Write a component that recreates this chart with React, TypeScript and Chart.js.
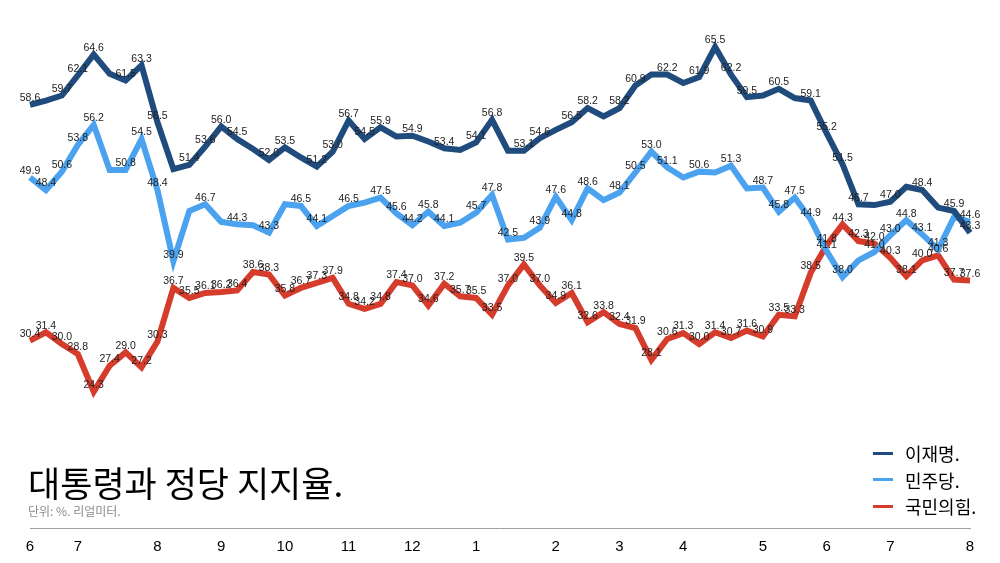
import React from "react"
import { Chart, registerables } from "chart.js"

Chart.register(...registerables)

// weekly polls, June to August of the next year
const monthLabels = ["6", "7", "8", "9", "10", "11", "12", "1", "2", "3", "4", "5", "6", "7", "8"]
const monthStarts = [0, 3, 8, 12, 16, 20, 24, 28, 33, 37, 41, 46, 50, 54, 59]

const lee = [
  58.6, 59.1, 59.7, 62.1, 64.6, 62.3, 61.5, 63.3, 56.5, 50.9,
  51.4, 53.6, 56.0, 54.5, 53.3, 52.0, 53.5, 52.3, 51.2, 53.0,
  56.7, 54.5, 55.9, 54.8, 54.9, 54.2, 53.4, 53.2, 54.1, 56.8,
  53.1, 53.1, 54.6, 55.6, 56.5, 58.2, 57.2, 58.2, 60.9, 62.2,
  62.2, 61.2, 61.9, 65.5, 62.2, 59.5, 59.7, 60.5, 59.4, 59.1,
  55.2, 51.5, 46.7, 46.6, 47.0, 48.8, 48.4, 46.3, 45.9, 43.3,
]
const minjoo = [
  49.9, 48.4, 50.6, 53.8, 56.2, 50.8, 50.8, 54.5, 48.4, 39.9,
  45.9, 46.7, 44.6, 44.3, 44.2, 43.3, 46.7, 46.5, 44.1, 45.3,
  46.5, 46.9, 47.5, 45.6, 44.2, 45.8, 44.1, 44.5, 45.7, 47.8,
  42.5, 42.7, 43.9, 47.6, 44.8, 48.6, 47.2, 48.1, 50.5, 53.0,
  51.1, 49.9, 50.6, 50.5, 51.3, 48.6, 48.7, 45.8, 47.5, 44.9,
  41.1, 38.0, 40.0, 41.0, 43.0, 44.8, 43.1, 41.3, 45.2, 44.6,
]
const ppp = [
  30.4, 31.4, 30.0, 28.8, 24.3, 27.4, 29.0, 27.2, 30.3, 36.7,
  35.5, 36.1, 36.2, 36.4, 38.6, 38.3, 35.8, 36.7, 37.3, 37.9,
  34.8, 34.2, 34.8, 37.4, 37.0, 34.6, 37.2, 35.7, 35.5, 33.5,
  37.0, 39.5, 37.0, 34.9, 36.1, 32.6, 33.8, 32.4, 31.9, 28.1,
  30.6, 31.3, 30.0, 31.4, 30.7, 31.6, 30.9, 33.5, 33.3, 38.5,
  41.8, 44.3, 42.3, 42.0, 40.3, 38.1, 40.0, 40.6, 37.7, 37.6,
]

// points whose value label is left out in the original
const leeNoLabel = [1, 5, 9, 14, 17, 23, 25, 27, 30, 33, 36, 39, 41, 46, 48, 53, 55, 57]
const minjooNoLabel = [5, 10, 12, 14, 16, 19, 21, 27, 31, 36, 41, 43, 45, 52, 58]
const pppNoLabel: number[] = []

const series = [
  { name: "이재명.", data: lee, color: "#1f4b7d", noLabel: leeNoLabel },
  { name: "민주당.", data: minjoo, color: "#4ba3f0", noLabel: minjooNoLabel },
  { name: "국민의힘.", data: ppp, color: "#d63c2c", noLabel: pppNoLabel },
]

const sans = "'Liberation Sans', Arial, sans-serif"
const kr = "'Noto Sans CJK KR', 'Noto Sans', sans-serif"

const valueLabels = {
  id: "valueLabels",
  afterDatasetsDraw(chart: any) {
    const ctx = chart.ctx
    ctx.save()
    ctx.font = `10.5px ${sans}`
    ctx.fillStyle = "#222"
    ctx.textAlign = "center"
    ctx.textBaseline = "middle"
    chart.data.datasets.forEach((ds: any, di: number) => {
      const meta = chart.getDatasetMeta(di)
      meta.data.forEach((pt: any, i: number) => {
        if (ds.noLabel.includes(i)) return
        ctx.fillText(ds.data[i].toFixed(1), pt.x, pt.y - 6.5)
      })
    })
    ctx.restore()
  },
}

const PollChart = () => {
  const chartRef = React.useRef<HTMLCanvasElement>(null)

  React.useEffect(() => {
    if (chartRef.current == null) {
      return
    }

    const chart = new Chart(chartRef.current, {
      type: "line",
      data: {
        labels: lee.map((_, i) => String(i)),
        datasets: series.map((s) => ({
          label: s.name,
          data: s.data,
          borderColor: s.color,
          borderWidth: 6,
          pointRadius: 0,
          tension: 0,
          fill: false,
          noLabel: s.noLabel,
        })) as any,
      },
      options: {
        responsive: false,
        animation: false,
        layout: { padding: { left: 30, right: 30, top: 1, bottom: 0 } },
        plugins: {
          legend: { display: false },
          tooltip: { enabled: false },
        },
        scales: {
          x: {
            type: "category",
            offset: false,
            grid: { display: false, drawTicks: false },
            border: { display: true, color: "#a0a0a0", width: 1 },
            ticks: {
              autoSkip: false,
              maxRotation: 0,
              minRotation: 0,
              padding: 10,
              color: "#000",
              font: { family: sans, size: 15 },
              callback: (_v: any, i: number) => {
                const k = monthStarts.indexOf(i)
                return k >= 0 ? monthLabels[k] : ""
              },
            },
            afterFit: (scale: any) => {
              scale.height = 35
            },
          },
          y: {
            display: false,
            min: 8,
            max: 71,
          },
        },
      },
      plugins: [valueLabels],
    })

    return () => {
      chart.destroy()
    }
  }, [])

  return (
    <canvas
      ref={chartRef}
      width={1000}
      height={563}
      style={{ position: "absolute", left: 0, top: 0 }}
    />
  )
}

export default function App() {
  return (
    <div style={{ position: "absolute", left: 0, top: 0, width: 1000, height: 563, background: "#fff", overflow: "hidden" }}>
      <PollChart />
      <div
        style={{
          position: "absolute",
          left: 28,
          top: 464,
          fontFamily: kr,
          fontSize: 35,
          lineHeight: 1,
          fontWeight: 400,
          color: "#000",
          whiteSpace: "nowrap",
        }}
      >
        대통령과 정당 지지율.
      </div>
      <div
        style={{
          position: "absolute",
          left: 28,
          top: 504.5,
          fontFamily: kr,
          fontSize: 12,
          lineHeight: 1,
          color: "#8a8a8a",
          whiteSpace: "nowrap",
        }}
      >
        단위: %. 리얼미터.
      </div>
      {series.map((s, i) => (
        <div
          key={s.name}
          style={{
            position: "absolute",
            left: 873,
            top: 440 + i * 26.5,
            height: 26.5,
            display: "flex",
            alignItems: "center",
            fontFamily: kr,
            fontSize: 18,
            color: "#000",
            whiteSpace: "nowrap",
          }}
        >
          <span style={{ display: "inline-block", width: 20, height: 3, background: s.color, marginRight: 12 }} />
          {s.name}
        </div>
      ))}
    </div>
  )
}
